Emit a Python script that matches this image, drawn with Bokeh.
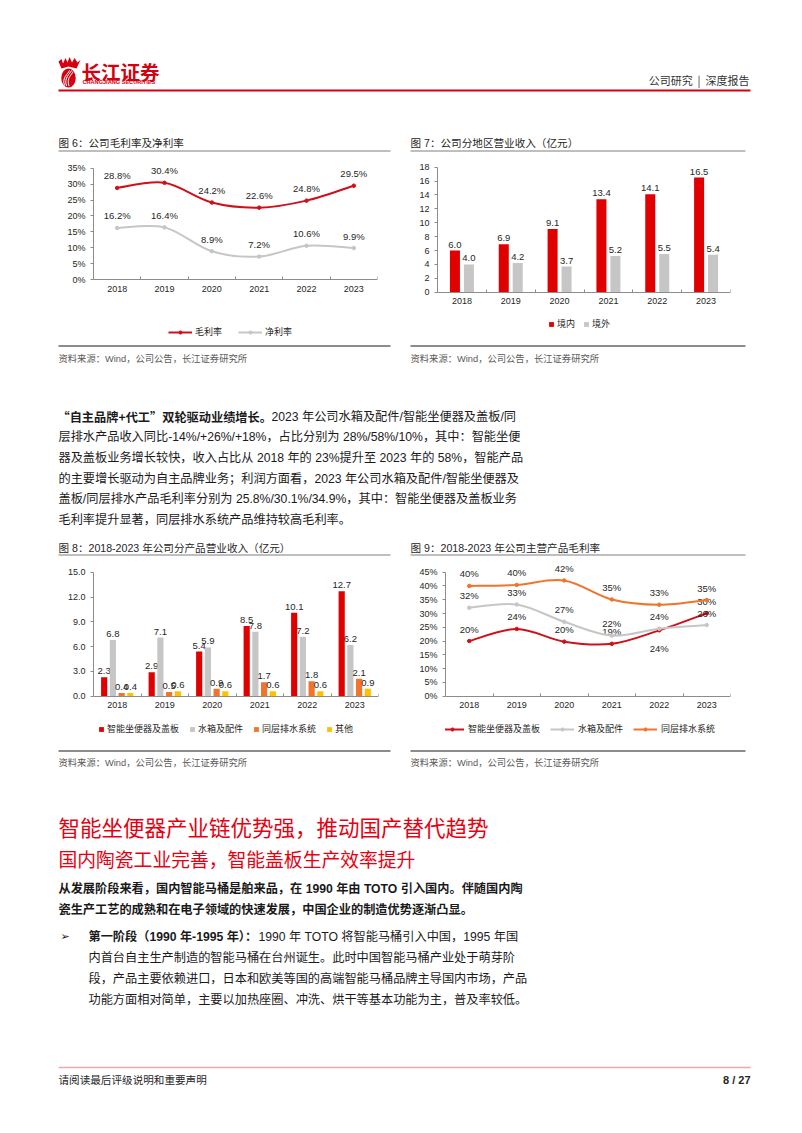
from bokeh.plotting import figure
from bokeh.layouts import column, row
from bokeh.models import (Range1d, FixedTicker, PrintfTickFormatter, Legend, LegendItem,
                          ColumnDataSource, CustomJSTickFormatter)
from bokeh.transform import dodge
from bokeh.core.properties import value
from bokeh.embed import file_html
from bokeh.resources import INLINE

# ---------------- data ----------------
years = ["2018", "2019", "2020", "2021", "2022", "2023"]
# Fig 6: gross / net margin (%)
gross_margin = [28.8, 30.4, 24.2, 22.6, 24.8, 29.5]
net_margin = [16.2, 16.4, 8.9, 7.2, 10.6, 9.9]
# Fig 7: revenue by region (100m CNY)
domestic = [6.0, 6.9, 9.1, 13.4, 14.1, 16.5]
overseas = [4.0, 4.2, 3.7, 5.2, 5.5, 5.4]
# Fig 8: revenue by product (100m CNY)
smart_toilet = [2.3, 2.9, 5.4, 8.5, 10.1, 12.7]
tank_parts = [6.8, 7.1, 5.9, 7.8, 7.2, 6.2]
drainage = [0.4, 0.5, 0.9, 1.7, 1.8, 2.1]
others = [0.4, 0.6, 0.6, 0.6, 0.6, 0.9]
# Fig 9: gross margin by product (%)
gm_smart = [20.0, 24.4, 19.8, 19.0, 23.9, 30.1]
gm_tank = [32.1, 33.3, 27.0, 22.0, 24.5, 25.8]
gm_drain = [40.0, 40.4, 42.0, 35.1, 33.2, 34.9]

# label placement (style, screen px offsets)
gm_smart_label_dy = [-12, -12, -12, -12, 18, -12]

# ---------------- styles ----------------
CN = "Noto Sans CJK SC"
MIX = "Liberation Sans, Noto Sans CJK SC"
LAT = "Liberation Sans"
LOGO_RED = "#D7000F"
HEAD_RED = "#E60012"
BAR_RED = "#E00000"
LINE_RED = "#D10F1A"
GREY = "#C6C6C6"
ORANGE = "#F0742A"
YELLOW = "#FFC000"
AXIS = "#8C8C8C"
TXT = "#262626"

FRAME_BOTTOM = {}


def band(y0, y1):
    p = figure(width=802, height=y1 - y0, x_range=Range1d(0, 802), y_range=Range1d(y1, y0),
               x_axis_location=None, y_axis_location=None, toolbar_location=None,
               output_backend="svg", min_border=0, outline_line_color=None,
               background_fill_color="white", border_fill_color="white")
    p.grid.visible = False
    return p


def seg(p, x0, y0, x1, y1, color, w):
    p.segment(x0=[x0], y0=[y0], x1=[x1], y1=[y1], line_color=color, line_width=w)


def txt(p, x, y, s, size, color=TXT, font=MIX, style="normal", align="left"):
    p.text(x=[x], y=[y], text=[s], text_font=value(font), text_font_size=value(f"{size}px"),
           text_color=color, text_font_style=style, text_align=align, text_baseline="middle")


def chart(left, right, fy0, fh, zero_px, max_px, ymax, yticks, fmt):
    """Figure of width 401 whose frame spans fy0+2 .. fy0+fh-2 (page px)."""
    top_px, bot_px = fy0 + 2, fy0 + fh - 2
    ppu = (zero_px - max_px) / ymax
    p = figure(width=401, height=fh, x_range=Range1d(-0.5, len(years) - 0.5),
               y_range=Range1d(-(bot_px - zero_px) / ppu, (zero_px - top_px) / ppu),
               toolbar_location=None, output_backend="svg",
               min_border_left=left, min_border_right=right, min_border_top=2,
               min_border_bottom=2, outline_line_color=None,
               background_fill_color="white", border_fill_color="white")
    p.grid.visible = False
    xa = p.xaxis[0]
    ya = p.yaxis[0]
    xa.fixed_location = 0
    xa.ticker = FixedTicker(ticks=list(range(len(years))),
                            minor_ticks=[i - 0.5 for i in range(len(years) + 1)])
    xa.formatter = CustomJSTickFormatter(args=dict(labels=years),
                                         code="return labels[Math.round(tick)] || ''")
    xa.major_tick_line_color = None
    xa.major_tick_out = 0
    xa.major_tick_in = 0
    xa.minor_tick_line_color = AXIS
    xa.minor_tick_in = 3
    xa.minor_tick_out = 0
    xa.axis_line_color = AXIS
    xa.major_label_text_font = LAT
    xa.major_label_text_font_size = "9px"
    xa.major_label_text_color = TXT
    xa.major_label_standoff = 6
    ya.ticker = FixedTicker(ticks=yticks)
    ya.formatter = PrintfTickFormatter(format=fmt)
    ya.bounds = (0, ymax)
    ya.axis_line_color = AXIS
    ya.major_tick_line_color = AXIS
    ya.major_tick_out = 3
    ya.major_tick_in = 0
    ya.minor_tick_line_color = None
    ya.major_label_text_font = LAT
    ya.major_label_text_font_size = "9px"
    ya.major_label_text_color = TXT
    ya.major_label_standoff = 5
    FRAME_BOTTOM[p.id] = bot_px
    return p


def smooth(vals):
    n = len(vals)
    P = [(float(i), float(v)) for i, v in enumerate(vals)]
    d = dict(x0=[], y0=[], x1=[], y1=[], cx0=[], cy0=[], cx1=[], cy1=[])
    for i in range(n - 1):
        p0 = P[i - 1] if i > 0 else P[i]
        p1, p2 = P[i], P[i + 1]
        p3 = P[i + 2] if i + 2 < n else P[i + 1]
        d["x0"].append(p1[0]); d["y0"].append(p1[1])
        d["x1"].append(p2[0]); d["y1"].append(p2[1])
        d["cx0"].append(p1[0] + (p2[0] - p0[0]) / 6); d["cy0"].append(p1[1] + (p2[1] - p0[1]) / 6)
        d["cx1"].append(p2[0] - (p3[0] - p1[0]) / 6); d["cy1"].append(p2[1] - (p3[1] - p1[1]) / 6)
    return ColumnDataSource(d)


def line_series(p, vals, color, label_fmt, dy):
    b = p.bezier(x0="x0", y0="y0", x1="x1", y1="y1", cx0="cx0", cy0="cy0", cx1="cx1", cy1="cy1",
                 source=smooth(vals), line_color=color, line_width=2)
    src = ColumnDataSource(dict(x=list(range(len(vals))), v=vals,
                                t=[label_fmt.format(v) for v in vals], dy=dy))
    s = p.scatter(x="x", y="v", source=src, size=3.5, marker="circle", fill_color=color,
                  line_color=color)
    p.text(x="x", y="v", text="t", source=src, y_offset="dy", text_align="center",
           text_baseline="middle", text_font=value(LAT), text_font_size=value("9.5px"),
           text_color=TXT)
    return [b, s]


def bar_series(p, vals, off, width, color, label_fmt):
    src = ColumnDataSource(dict(x=list(range(len(vals))), v=vals,
                                t=[label_fmt.format(v) for v in vals]))
    r = p.vbar(x=dodge("x", off, range=p.x_range), top="v", width=width, source=src,
               fill_color=color, line_color=None)
    p.text(x=dodge("x", off, range=p.x_range), y="v", text="t", source=src, y_offset=-3,
           text_align="center", text_baseline="bottom", text_font=value(LAT),
           text_font_size=value("9.5px"), text_color=TXT)
    return r


def legend(p, items, x_page_left, frame_left_px, center_y, gw, gh, spacing, standoff):
    h = 10
    vy = FRAME_BOTTOM[p.id] - (center_y + h / 2)
    lg = Legend(items=[LegendItem(label=l, renderers=r) for l, r in items],
                orientation="horizontal", location=(x_page_left - frame_left_px, vy),
                glyph_width=gw, glyph_height=gh,
                spacing=spacing, label_standoff=standoff, padding=0, margin=0,
                border_line_color=None, background_fill_alpha=0, label_height=h,
                label_text_font=CN, label_text_font_size="9px", label_text_color=TXT)
    p.add_layout(lg, "center")


# ---------------- band 1: header + titles (0..155) ----------------
b1 = band(0, 155)
# logo emblem
b1.patch(x=[58, 61, 62.5, 65, 67, 69, 71.5, 74, 77, 80, 76, 68, 61],
         y=[61, 58.5, 63, 57.5, 62, 56.5, 62, 57.5, 62, 59.5, 68, 66, 68],
         fill_color=LOGO_RED, line_color=None)
b1.ellipse(x=[68], y=[77.5], width=[14.5], height=[19], fill_color=LOGO_RED, line_color=None)
b1.bezier(x0=[64, 66, 68.5], y0=[85, 85.5, 85.5], x1=[69, 71, 72.5], y1=[70, 70, 71],
          cx0=[61, 63, 65.5], cy0=[77, 77, 77], cx1=[68, 70, 72], cy1=[73, 73, 74],
          line_color="white", line_width=1)
txt(b1, 81, 70.5, "长江证券", 19.5, color=LOGO_RED, font=CN, style="bold")
txt(b1, 82, 81.5, "CHANGJIANG SECURITIES", 5.6, color=LOGO_RED, font=LAT, style="bold")
txt(b1, 749, 79, "公司研究\u00a0\u00a0|\u00a0\u00a0深度报告", 11, color="#333333", font=CN,
    align="right")
seg(b1, 58, 90, 750, 90, LOGO_RED, 2)
txt(b1, 58, 142, "图 6：公司毛利率及净利率", 10.6)
txt(b1, 410, 142, "图 7：公司分地区营业收入（亿元）", 10.6)
seg(b1, 58, 150.5, 390, 150.5, "#7F7F7F", 1)
seg(b1, 410, 150.5, 745, 150.5, "#7F7F7F", 1)

# ---------------- row 1: charts 6 and 7 (155..342) ----------------
c6 = chart(93, 24, 155, 187, 279, 167.7, 35, list(range(0, 36, 5)), "%d%%")
r_gm = line_series(c6, gross_margin, LINE_RED, "{:.1f}%", [-12] * 6)
r_nm = line_series(c6, net_margin, GREY, "{:.1f}%", [-12] * 6)
legend(c6, [("毛利率", r_gm), ("净利率", r_nm)], 168, 93, 333, 24, 8, 16, 3)

c7 = chart(36, 72, 155, 187, 291.7, 166.7, 18, list(range(0, 19, 2)), "%d")
r_dom = bar_series(c7, domestic, -0.143, 0.205, BAR_RED, "{:.1f}")
r_ovs = bar_series(c7, overseas, 0.143, 0.205, GREY, "{:.1f}")
legend(c7, [("境内", [r_dom]), ("境外", [r_ovs])], 548, 437, 325, 6, 6, 6, 3)

# ---------------- band 3: sources, paragraph, titles (342..560) ----------------
b3 = band(342, 560)
seg(b3, 58, 345.5, 390, 345.5, "#8C8C8C", 2)
seg(b3, 410, 345.5, 745, 345.5, "#8C8C8C", 2)
src_txt = "资料来源：Wind，公司公告，长江证券研究所"
txt(b3, 58, 358, src_txt, 9.3, color="#595959")
txt(b3, 410, 358, src_txt, 9.3, color="#595959")
para1 = [
    "层排水产品收入同比-14%/+26%/+18%，占比分别为 28%/58%/10%，其中：智能坐便",
    "器及盖板业务增长较快，收入占比从 2018 年的 23%提升至 2023 年的 58%，智能产品",
    "的主要增长驱动为自主品牌业务；利润方面看，2023 年公司水箱及配件/智能坐便器及",
    "盖板/同层排水产品毛利率分别为 25.8%/30.1%/34.9%，其中：智能坐便器及盖板业务",
    "毛利率提升显著，同层排水系统产品维持较高毛利率。",
]
txt(b3, 57, 416, "“自主品牌+代工”双轮驱动业绩增长。", 12.2, color="#1A1A1A", font=CN,
    style="bold")
txt(b3, 271, 416, "2023 年公司水箱及配件/智能坐便器及盖板/同", 12.2, color="#1A1A1A")
for i, line in enumerate(para1):
    txt(b3, 58, 436.7 + i * 20.7, line, 12.2, color="#1A1A1A")
txt(b3, 58, 547, "图 8：2018-2023 年公司分产品营业收入（亿元）", 10.6)
txt(b3, 410, 547, "图 9：2018-2023 年公司主营产品毛利率", 10.6)
seg(b3, 58, 554.5, 390, 554.5, "#7F7F7F", 1)
seg(b3, 410, 554.5, 745, 554.5, "#7F7F7F", 1)

# ---------------- row 2: charts 8 and 9 (560..747) ----------------
c8 = chart(93, 23, 560, 187, 695.7, 571.7, 15, [0, 3, 6, 9, 12, 15], "%.1f")
r_s = bar_series(c8, smart_toilet, -0.275, 0.13, BAR_RED, "{:.1f}")
r_t = bar_series(c8, tank_parts, -0.092, 0.13, GREY, "{:.1f}")
r_d = bar_series(c8, drainage, 0.092, 0.13, ORANGE, "{:.1f}")
r_o = bar_series(c8, others, 0.275, 0.13, YELLOW, "{:.1f}")
legend(c8, [("智能坐便器及盖板", [r_s]), ("水箱及配件", [r_t]), ("同层排水系统", [r_d]),
            ("其他", [r_o])], 98, 93, 730, 6, 6, 10, 3)

c9 = chart(44, 72, 560, 187, 695.7, 571.7, 45, list(range(0, 46, 5)), "%d%%")
r9s = line_series(c9, gm_smart, LINE_RED, "{:.0f}%", gm_smart_label_dy)
r9t = line_series(c9, gm_tank, GREY, "{:.0f}%", [-12] * 6)
r9d = line_series(c9, gm_drain, ORANGE, "{:.0f}%", [-12] * 6)
legend(c9, [("智能坐便器及盖板", r9s), ("水箱及配件", r9t), ("同层排水系统", r9d)],
       440, 445, 730, 24, 8, 10, 4)

# ---------------- band 5: sources, headings, text, footer (747..1133) ----------------
b5 = band(747, 1133)
seg(b5, 58, 750.5, 390, 750.5, "#8C8C8C", 2)
seg(b5, 410, 750.5, 745, 750.5, "#8C8C8C", 2)
txt(b5, 58, 762, src_txt, 9.3, color="#595959")
txt(b5, 410, 762, src_txt, 9.3, color="#595959")
txt(b5, 58, 826, "智能坐便器产业链优势强，推动国产替代趋势", 21.5, color=HEAD_RED, font=CN)
txt(b5, 58, 858, "国内陶瓷工业完善，智能盖板生产效率提升", 18.8, color=HEAD_RED, font=CN)
txt(b5, 58, 888, "从发展阶段来看，国内智能马桶是舶来品，在 1990 年由 TOTO 引入国内。伴随国内陶",
    12.2, color="#1A1A1A", style="bold")
txt(b5, 58, 909, "瓷生产工艺的成熟和在电子领域的快速发展，中国企业的制造优势逐渐凸显。",
    12.2, color="#1A1A1A", style="bold")
txt(b5, 60, 936, "➢", 11, color="#1A1A1A", font="DejaVu Sans")
txt(b5, 88, 936, "第一阶段（1990 年-1995 年）：", 12.2, color="#1A1A1A", style="bold")
txt(b5, 258, 936, "1990 年 TOTO 将智能马桶引入中国，1995 年国", 12.2, color="#1A1A1A")
bullet = [
    "内首台自主生产制造的智能马桶在台州诞生。此时中国智能马桶产业处于萌芽阶",
    "段，产品主要依赖进口，日本和欧美等国的高端智能马桶品牌主导国内市场，产品",
    "功能方面相对简单，主要以加热座圈、冲洗、烘干等基本功能为主，普及率较低。",
]
for i, line in enumerate(bullet):
    txt(b5, 88, 957 + i * 21, line, 12.2, color="#1A1A1A")
seg(b5, 58, 1067, 750, 1067, "#F2A7A7", 1.5)
txt(b5, 58, 1079, "请阅读最后评级说明和重要声明", 10.6, color="#262626", font=CN)
txt(b5, 750, 1079, "8 / 27", 11, color="#262626", font=LAT, style="bold", align="right")

page = column(b1, row(c6, c7), b3, row(c8, c9), b5)
open("out.html", "w").write(file_html(page, INLINE))
